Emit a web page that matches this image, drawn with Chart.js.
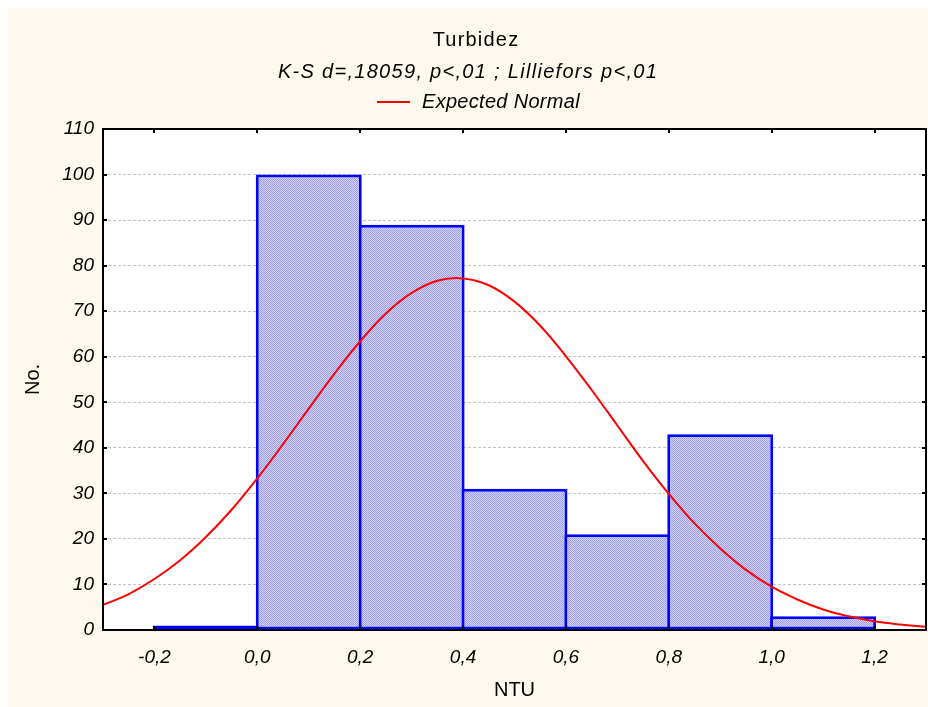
<!DOCTYPE html>
<html>
<head>
<meta charset="utf-8">
<script src="https://cdn.jsdelivr.net/npm/chart.js@4/dist/chart.umd.min.js"></script>
<style>
  html, body { margin: 0; padding: 0; background: #ffffff; }
  #wrap { width: 928px; height: 707px; }
</style>
</head>
<body>
<div id="wrap"><canvas id="c" width="928" height="707"></canvas></div>
<script>
// ---- Data ----
const titleText = "Turbidez";
const subtitleText = "K-S d=,18059, p<,01 ; Lilliefors p<,01";
const legendText = "Expected Normal";
const xAxisTitle = "NTU";
const yAxisTitle = "No.";

// Histogram bins (centers) and counts
const binCenters = [-0.1, 0.1, 0.3, 0.5, 0.7, 0.9, 1.1];
const binCounts  = [1, 100, 89, 31, 21, 43, 3];

// Expected normal curve
const curveX = [-0.3, -0.25, -0.2, -0.15, -0.1, -0.05, 0.0, 0.05, 0.1, 0.15, 0.2, 0.25, 0.3, 0.35, 0.4, 0.45, 0.5, 0.55, 0.6, 0.65, 0.7, 0.75, 0.8, 0.85, 0.9, 0.95, 1.0, 1.05, 1.1, 1.15, 1.2, 1.25, 1.3];
const curveY = [5.5, 7.9, 11.2, 15.3, 20.4, 26.4, 33.3, 40.8, 48.6, 56.3, 63.4, 69.5, 74.0, 76.7, 77.2, 75.7, 72.1, 66.8, 60.1, 52.7, 44.9, 37.1, 29.9, 23.4, 17.9, 13.2, 9.5, 6.7, 4.5, 3.0, 1.9, 1.2, 0.7];

// Tick values
const xTickValues = [-0.2, 0.0, 0.2, 0.4, 0.6, 0.8, 1.0, 1.2];
const yTickValues = [0, 10, 20, 30, 40, 50, 60, 70, 80, 90, 100, 110];

// ---- Build ----
const canvas = document.getElementById('c');
const ctx = canvas.getContext('2d');

const pc = document.createElement('canvas');
pc.width = 2; pc.height = 2;
const pctx = pc.getContext('2d');
pctx.fillStyle = '#D4D4FB'; pctx.fillRect(0, 0, 2, 2);
pctx.fillStyle = '#9C9CF2'; pctx.fillRect(0, 0, 1, 1); pctx.fillRect(1, 1, 1, 1);
const barPattern = ctx.createPattern(pc, 'repeat');

const fmt = v => (Math.abs(v) < 1e-9 ? 0 : v).toFixed(1).replace('.', ',');

const FONT = '"Liberation Sans", Arial, sans-serif';

const decor = {
  id: 'decor',
  beforeDraw(chart) {
    const c = chart.ctx, a = chart.chartArea;
    c.save();
    c.fillStyle = '#ffffff';
    c.fillRect(0, 0, chart.width, chart.height);
    c.fillStyle = '#FDF9EE';
    c.fillRect(8, 8, chart.width - 8, chart.height - 8);
    c.fillStyle = '#ffffff';
    c.fillRect(a.left, a.top, a.right - a.left, a.bottom - a.top);
    c.restore();
  },
  afterDraw(chart) {
    const c = chart.ctx, a = chart.chartArea;
    const xs = chart.scales.x, ys = chart.scales.y;
    c.save();
    // frame
    c.strokeStyle = '#000000';
    c.lineWidth = 2;
    c.strokeRect(a.left, a.top, a.right - a.left, a.bottom - a.top);
    // inward ticks
    c.lineWidth = 2;
    c.beginPath();
    xTickValues.forEach(v => {
      const px = Math.round(xs.getPixelForValue(v));
      c.moveTo(px, a.top); c.lineTo(px, a.top + 4);
      c.moveTo(px, a.bottom); c.lineTo(px, a.bottom - 4);
    });
    yTickValues.forEach(v => {
      const py = Math.round(ys.getPixelForValue(v));
      c.moveTo(a.left, py); c.lineTo(a.left + 4, py);
      c.moveTo(a.right, py); c.lineTo(a.right - 4, py);
    });
    c.stroke();

    // titles
    c.fillStyle = '#000000';
    c.textBaseline = 'middle';
    c.textAlign = 'center';
    c.font = '20px ' + FONT;
    c.letterSpacing = '1.2px';
    c.fillText(titleText, 476, 40);
    c.font = 'italic 20px ' + FONT;
    c.letterSpacing = '1.3px';
    c.fillText(subtitleText, 468, 72);
    // legend
    c.strokeStyle = '#FF0000';
    c.lineWidth = 2;
    c.beginPath(); c.moveTo(377, 102); c.lineTo(410, 102); c.stroke();
    c.textAlign = 'left';
    c.letterSpacing = '0.3px';
    c.fillText(legendText, 422, 102);
    // axis titles
    c.letterSpacing = '0px';
    c.font = '20px ' + FONT;
    c.textAlign = 'center';
    c.fillText(xAxisTitle, (a.left + a.right) / 2, 690);
    c.translate(33, (a.top + a.bottom) / 2);
    c.rotate(-Math.PI / 2);
    c.fillText(yAxisTitle, 0, 0);
    c.restore();
  }
};

new Chart(ctx, {
  type: 'bar',
  data: {
    datasets: [
      {
        type: 'line',
        label: legendText,
        data: curveX.map((x, i) => ({ x: x, y: curveY[i] })),
        borderColor: '#FF0000',
        borderWidth: 2,
        pointRadius: 0,
        tension: 0.4,
        fill: false,
        order: 1
      },
      {
        type: 'bar',
        label: 'Counts',
        data: binCenters.map((x, i) => ({ x: x, y: binCounts[i] })),
        backgroundColor: barPattern,
        borderColor: '#0000FF',
        borderWidth: 3,
        borderSkipped: false,
        barPercentage: 1.03,
        categoryPercentage: 1,
        order: 2
      }
    ]
  },
  options: {
    responsive: false,
    animation: false,
    devicePixelRatio: 1,
    layout: { padding: { top: 129, right: 2, left: 0, bottom: 0 } },
    plugins: { legend: { display: false }, title: { display: false }, tooltip: { enabled: false } },
    scales: {
      x: {
        type: 'linear',
        min: -0.3,
        max: 1.3,
        offset: false,
        afterFit: s => { s.height = 77; },
        afterBuildTicks: s => { s.ticks = xTickValues.map(v => ({ value: v })); },
        grid: { display: false, drawTicks: false },
        border: { display: false },
        ticks: {
          padding: 16,
          color: '#000000',
          font: { family: FONT, size: 19, style: 'italic' },
          callback: v => fmt(v),
          maxRotation: 0,
          autoSkip: false
        }
      },
      y: {
        type: 'linear',
        min: 0,
        max: 110,
        afterFit: s => { s.width = 103; },
        afterBuildTicks: s => { s.ticks = yTickValues.map(v => ({ value: v })); },
        grid: {
          drawTicks: false,
          color: ctx2 => (ctx2.tick && (ctx2.tick.value === 0 || ctx2.tick.value === 110)) ? 'rgba(0,0,0,0)' : '#C4C4C4',
          lineWidth: 1
        },
        border: { display: false, dash: [3, 2] },
        ticks: {
          padding: 9,
          color: '#000000',
          font: { family: FONT, size: 19, style: 'italic' },
          callback: v => String(v)
        }
      }
    }
  },
  plugins: [decor]
});
</script>
</body>
</html>
